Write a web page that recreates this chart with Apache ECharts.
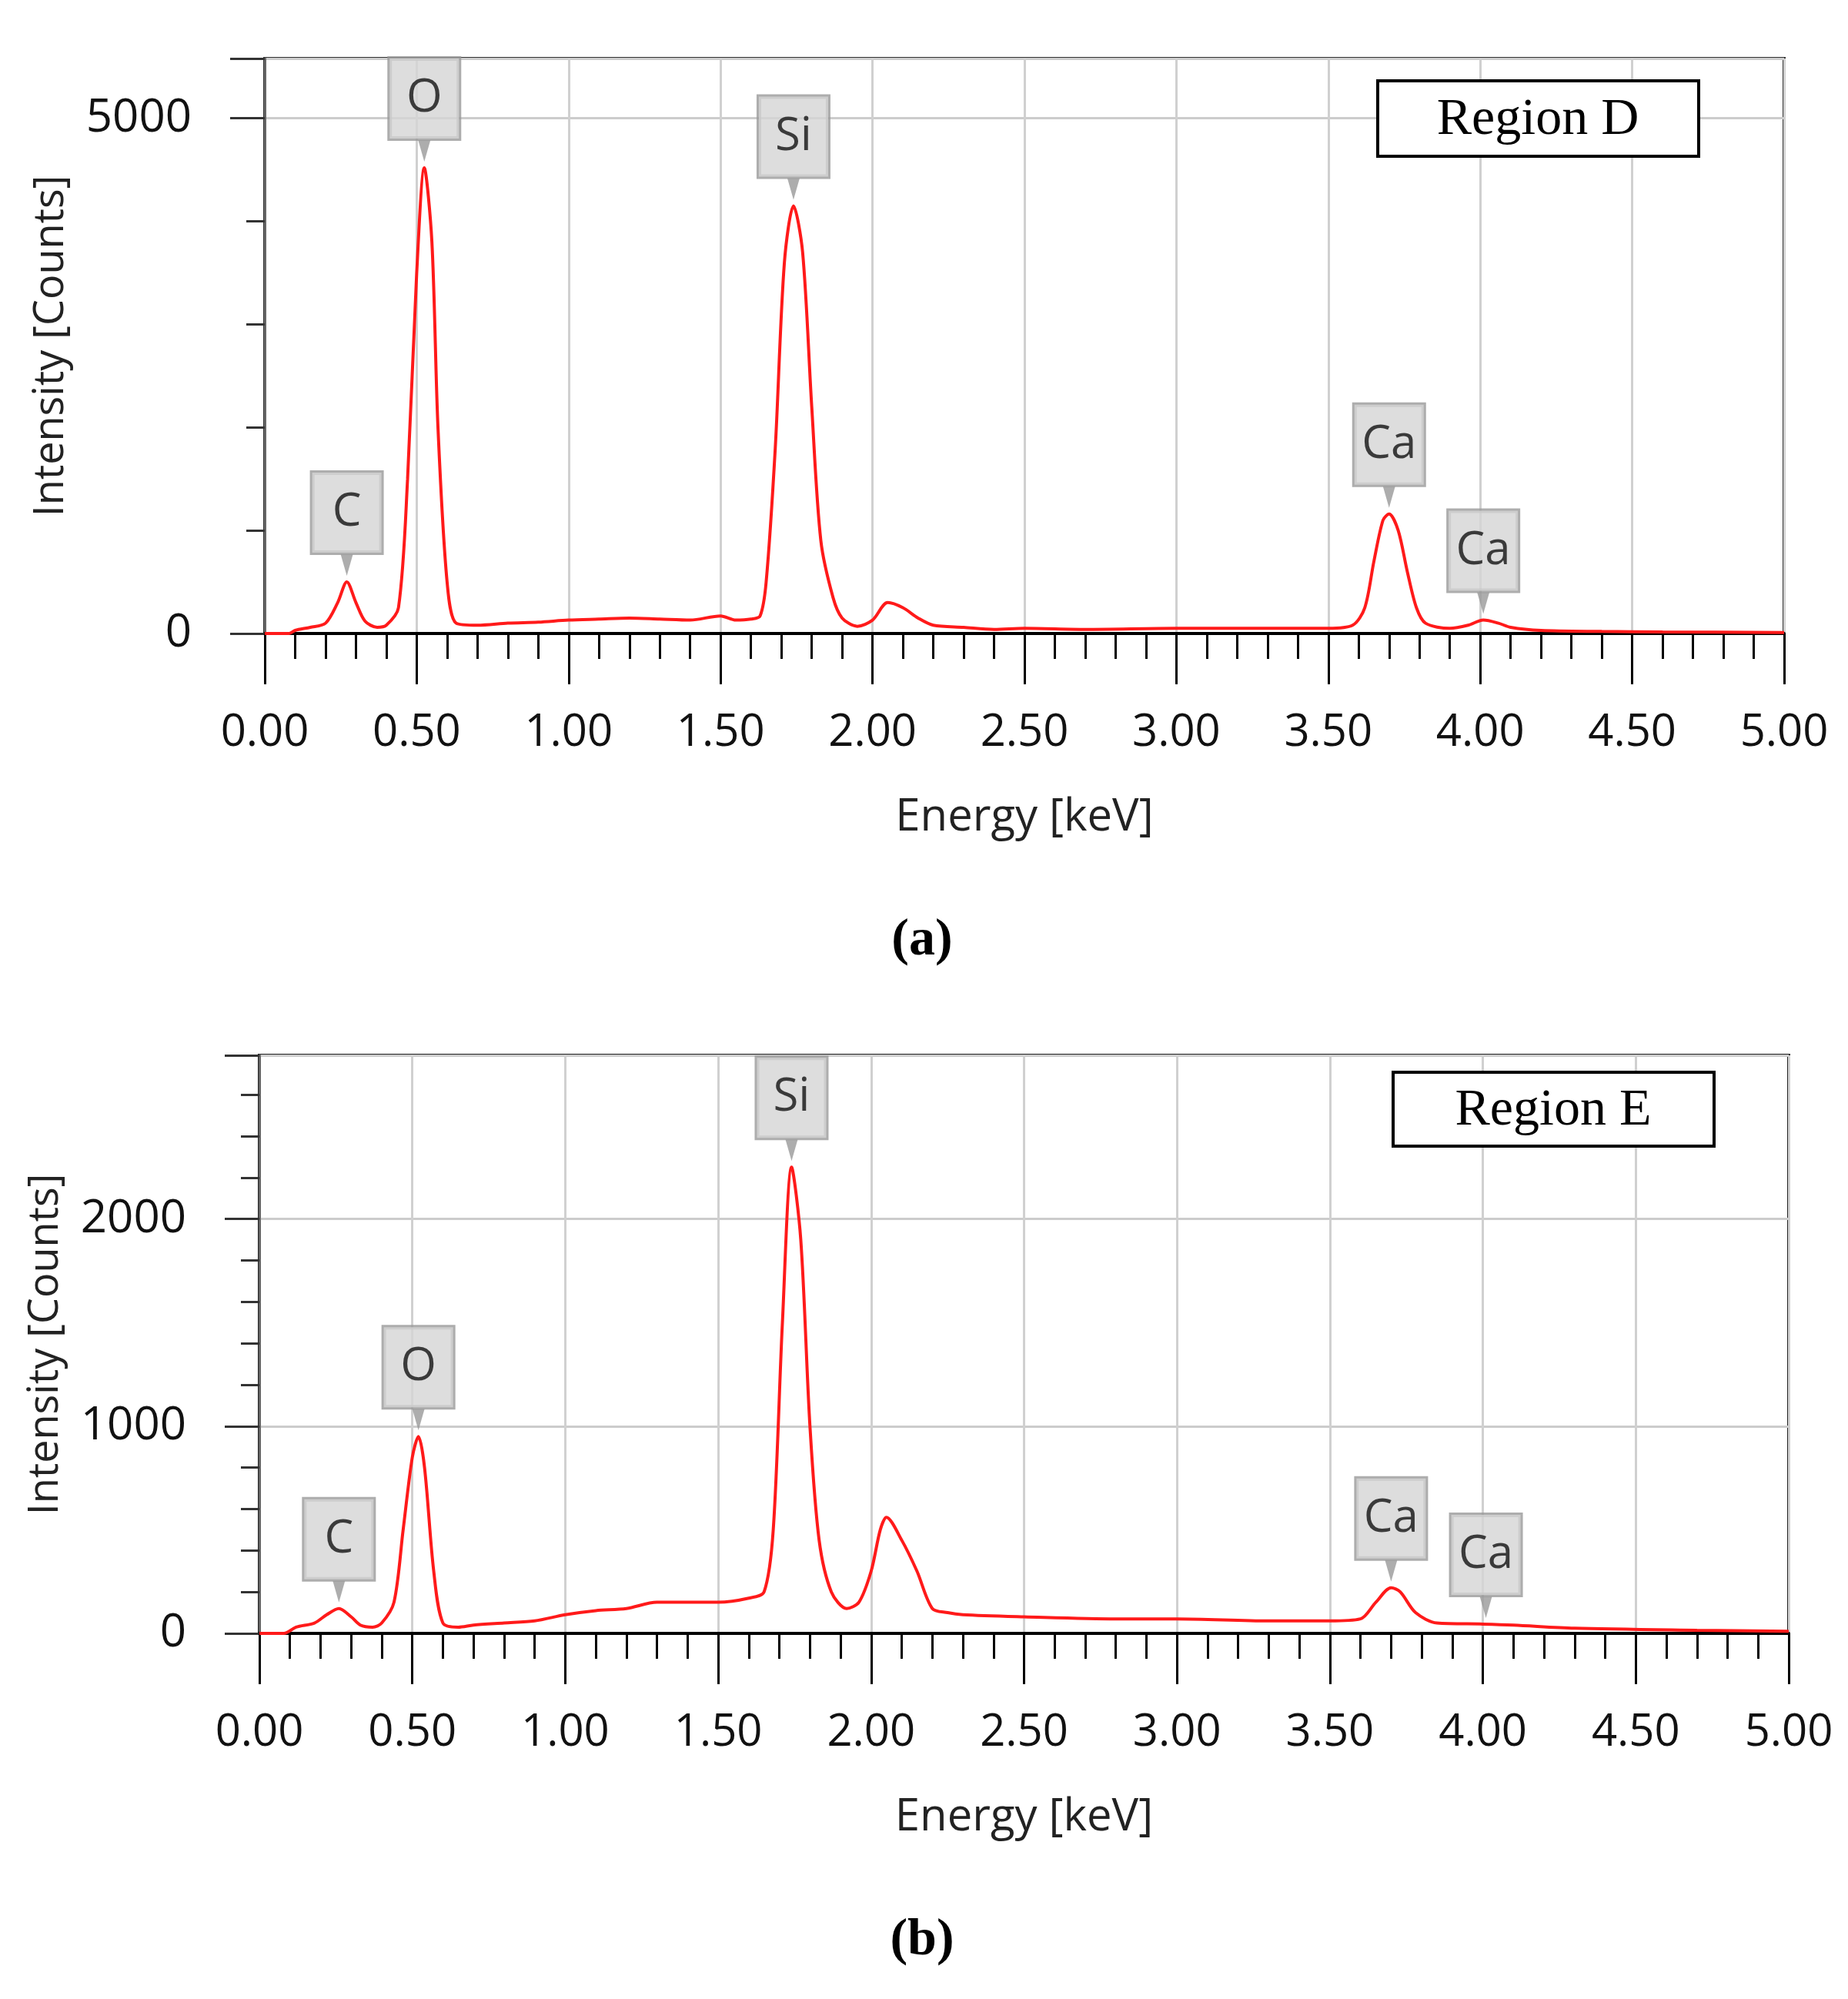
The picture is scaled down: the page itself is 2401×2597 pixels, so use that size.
<!DOCTYPE html>
<html><head><meta charset="utf-8">
<script src="https://cdn.jsdelivr.net/npm/echarts@6/dist/echarts.min.js"></script>
<style>html,body{margin:0;padding:0;background:#fff}#c{width:2401px;height:2597px}</style>
</head><body><div id="c"></div>
<script>
const energyD=[0,0.08,0.1,0.15,0.2,0.24,0.27,0.3,0.33,0.37,0.4,0.44,0.47,0.5,0.525,0.55,0.57,0.6,0.63,0.7,0.8,0.9,1.0,1.1,1.2,1.3,1.4,1.5,1.55,1.6,1.63,1.65,1.68,1.71,1.74,1.77,1.8,1.83,1.87,1.9,1.95,2.0,2.05,2.1,2.15,2.2,2.3,2.4,2.5,2.7,3.0,3.5,3.58,3.62,3.65,3.68,3.7,3.73,3.76,3.79,3.82,3.9,3.96,4.01,4.06,4.1,4.2,4.4,4.6,5.0];
const countsD=[0,0,30,60,100,300,500,300,120,60,80,250,1500,3500,4520,3800,2000,500,100,80,100,110,130,140,150,140,130,170,130,140,170,500,1800,3600,4150,3700,2200,900,350,150,70,130,300,250,150,80,60,40,50,40,50,50,80,250,700,1100,1160,1000,600,250,100,50,80,130,100,60,30,20,15,10];
const energyE=[0,0.08,0.12,0.18,0.22,0.26,0.3,0.33,0.37,0.4,0.44,0.47,0.5,0.52,0.54,0.57,0.6,0.65,0.7,0.8,0.9,1.0,1.1,1.2,1.3,1.4,1.5,1.6,1.65,1.68,1.71,1.74,1.77,1.8,1.83,1.87,1.92,1.96,2.0,2.03,2.05,2.1,2.15,2.2,2.25,2.3,2.5,2.8,3.0,3.3,3.5,3.6,3.65,3.7,3.73,3.78,3.85,4.0,4.1,4.3,4.7,5.0];
const countsE=[0,0,30,50,90,120,80,40,30,50,150,500,850,950,800,300,50,30,40,50,60,90,110,120,150,150,150,170,200,500,1500,2250,1900,1000,450,200,120,150,300,500,560,450,300,120,100,90,80,70,70,60,60,70,150,220,200,100,50,45,40,25,15,10];
const peakNamesD=['C','O','Si','Ca','Ca'];
const peakEnergyD=[0.27,0.525,1.74,3.70,4.01];
const peakCountsD=[500,4520,4150,1160,130];
const peakNamesE=['C','O','Si','Ca','Ca'];
const peakEnergyE=[0.26,0.52,1.74,3.70,4.01];
const peakCountsE=[120,950,2250,220,45];

const font='"Open Sans", sans-serif';
function xAxis(i){return {gridIndex:i,type:'value',min:0,max:5,interval:0.5,
  axisLine:{onZero:false,lineStyle:{color:'#000',width:4}},
  axisTick:{length:66,lineStyle:{color:'#000',width:3}},
  minorTick:{show:true,splitNumber:5,length:33,lineStyle:{color:'#000',width:3}},
  splitLine:{show:true,lineStyle:{color:'#d0d0d0',width:3}},
  axisLabel:{margin:100,fontSize:58,fontFamily:font,color:'#111',formatter:v=>v.toFixed(2)},
  name:'Energy [keV]',nameLocation:'middle',nameGap:210,nameTextStyle:{fontSize:58,fontFamily:font,color:'#222'}};}
function yAxis(i,max,interval){return {gridIndex:i,type:'value',min:0,max:max,interval:interval,
  axisLine:{show:true,lineStyle:{color:'#666',width:3}},
  axisTick:{show:true,length:45,lineStyle:{color:'#333',width:3}},
  minorTick:{show:true,splitNumber:5,length:24,lineStyle:{color:'#333',width:3}},
  splitLine:{show:true,lineStyle:{color:'#cccccc',width:3}},
  axisLabel:{margin:95,fontSize:60,fontFamily:font,color:'#111',showMaxLabel:false,formatter:v=>(v%interval===0?String(v):'')},
  name:'Intensity [Counts]',nameLocation:'middle',nameGap:250,nameTextStyle:{fontSize:54,fontFamily:font,color:'#222'}};}
function zip(a,b){return a.map((v,i)=>[v,b[i]]);}
function peaks(i,names,e,c){return {type:'scatter',xAxisIndex:i,yAxisIndex:i,z:5,
  symbol:'triangle',symbolRotate:180,symbolSize:[16,28],symbolOffset:[0,-22],
  itemStyle:{color:'#999'},
  data:e.map((v,k)=>({value:[v,c[k]],name:names[k]})),
  label:{show:true,position:'top',distance:0,offset:[0,-2],formatter:p=>p.name,
    fontSize:60,fontFamily:font,color:'#111',backgroundColor:'#d4d4d4',borderColor:'#999',borderWidth:3,
    width:78,height:96,lineHeight:96,align:'center',padding:[4,6]}};}
function line(i,e,c){return {type:'line',xAxisIndex:i,yAxisIndex:i,showSymbol:false,symbol:'none',smooth:0.3,
  lineStyle:{color:'#ff1a1a',width:4},data:zip(e,c),z:3};}
const chart=echarts.init(document.getElementById('c'));
chart.setOption({animation:false,backgroundColor:'#fff',
 grid:[{left:344,right:83,top:76,height:747,show:true,borderColor:'#333',borderWidth:4},
       {left:337,right:77,top:1371,height:751,show:true,borderColor:'#222',borderWidth:4}],
 xAxis:[xAxis(0),xAxis(1)],
 yAxis:[yAxis(0,5580,5000),yAxis(1,2790,1000)],
 series:[line(0,energyD,countsD),line(1,energyE,countsE),
   peaks(0,peakNamesD,peakEnergyD,peakCountsD),peaks(1,peakNamesE,peakEnergyE,peakCountsE)],
 graphic:[
  {type:'rect',shape:{x:1790,y:105,width:417,height:98},style:{fill:'#fff',stroke:'#000',lineWidth:4},z:10},
  {type:'text',x:1998,y:156,style:{text:'Region D',font:'68px "Liberation Serif"',fill:'#000',align:'center',verticalAlign:'middle'},z:11},
  {type:'rect',shape:{x:1810,y:1393,width:417,height:96},style:{fill:'#fff',stroke:'#000',lineWidth:4},z:10},
  {type:'text',x:2018,y:1443,style:{text:'Region E',font:'68px "Liberation Serif"',fill:'#000',align:'center',verticalAlign:'middle'},z:11},
  {type:'text',x:1198,y:1222,style:{text:'(a)',font:'bold 68px "Liberation Serif"',fill:'#000',align:'center',verticalAlign:'middle'}},
  {type:'text',x:1198,y:2521,style:{text:'(b)',font:'bold 68px "Liberation Serif"',fill:'#000',align:'center',verticalAlign:'middle'}}
 ]});
</script></body></html>
